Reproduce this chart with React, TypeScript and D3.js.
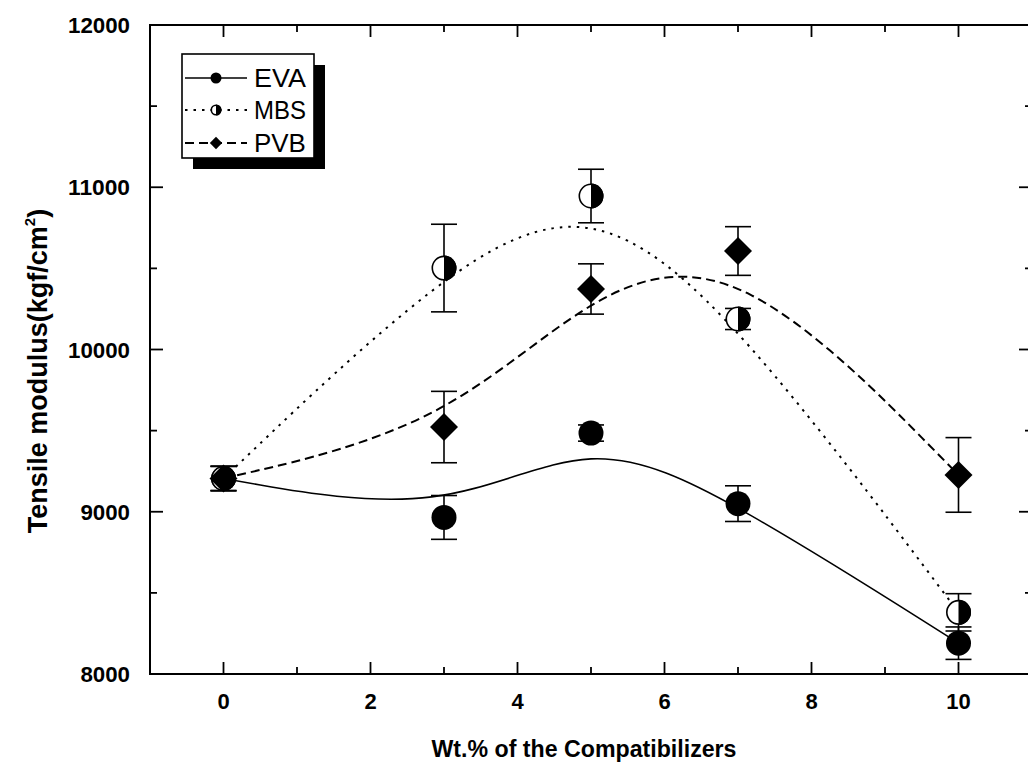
import React from "react";
import * as d3 from "d3";

const xValues = [0, 3, 5, 7, 10];
const evaValues = [9205, 8965, 9485, 9050, 8190];
const evaErrors = [75, 135, 50, 110, 100];
const mbsValues = [9205, 10502, 10946, 10188, 8380];
const mbsErrors = [75, 270, 165, 65, 115];
const pvbValues = [9205, 9522, 10373, 10607, 9227];
const pvbErrors = [75, 220, 155, 150, 230];
const xTickLabels = [0, 2, 4, 6, 8, 10];
const yTickLabels = [8000, 9000, 10000, 11000, 12000];
const seriesNames = ["EVA", "MBS", "PVB"];

const W = 1028;
const H = 766;
const FONT = "'Liberation Sans', Arial, Helvetica, sans-serif";

export default function App() {
  const x = d3.scaleLinear().domain([-1, 11]).range([150, 1032]);
  const y = d3.scaleLinear().domain([8000, 12000]).range([674, 25]);
  const line = d3
    .line<[number, number]>()
    .x((d) => x(d[0]))
    .y((d) => y(d[1]))
    .curve(d3.curveBasis);

  const series = [
    { name: seriesNames[0], values: evaValues, errors: evaErrors, dash: undefined, width: 1.6, marker: "circle" },
    { name: seriesNames[1], values: mbsValues, errors: mbsErrors, dash: "2.5,6", width: 2, marker: "half" },
    { name: seriesNames[2], values: pvbValues, errors: pvbErrors, dash: "9,5", width: 2, marker: "diamond" },
  ];

  const marker = (kind: string, cx: number, cy: number, r: number, key: string) => {
    if (kind === "circle") return <circle key={key} cx={cx} cy={cy} r={r} fill="#000" />;
    if (kind === "diamond") {
      const s = r * 1.12;
      return (
        <path
          key={key}
          d={`M${cx},${cy - s}L${cx + s},${cy}L${cx},${cy + s}L${cx - s},${cy}Z`}
          fill="#000"
        />
      );
    }
    return (
      <g key={key}>
        <circle cx={cx} cy={cy} r={r - 0.8} fill="#fff" stroke="#000" strokeWidth={1.6} />
        <path d={`M${cx},${cy - r}A${r},${r} 0 0 1 ${cx},${cy + r}Z`} fill="#000" />
      </g>
    );
  };

  const xMajor = d3.range(-1, 12, 1);
  const yMinor = d3.range(8000, 12001, 500);
  const [x0, x1] = x.range();
  const [yb, yt] = y.range();

  return (
    <svg
      width={W}
      height={H}
      style={{ position: "absolute", left: 0, top: 0, background: "#fff" }}
      fontFamily={FONT}
    >
      <rect x={0} y={0} width={W} height={H} fill="#fff" />
      {series.map((s) => (
        <path
          key={"l" + s.name}
          d={line(xValues.map((v, i) => [v, s.values[i]] as [number, number])) || ""}
          fill="none"
          stroke="#000"
          strokeWidth={s.width}
          strokeDasharray={s.dash}
        />
      ))}
      {series.map((s) =>
        xValues.map((v, i) => {
          const cx = x(v);
          const top = y(s.values[i] + s.errors[i]);
          const bot = y(s.values[i] - s.errors[i]);
          return (
            <g key={"e" + s.name + i} stroke="#000" strokeWidth={1.6}>
              <line x1={cx} x2={cx} y1={top} y2={bot} />
              <line x1={cx - 13} x2={cx + 13} y1={top} y2={top} />
              <line x1={cx - 13} x2={cx + 13} y1={bot} y2={bot} />
            </g>
          );
        })
      )}
      {series.map((s) => xValues.map((v, i) => marker(s.marker, x(v), y(s.values[i]), 12.5, "m" + s.name + i)))}

      <rect x={x0} y={yt} width={x1 - x0} height={yb - yt} fill="none" stroke="#000" strokeWidth={2} />
      {xMajor.map((v) => {
        const len = v % 2 === 0 ? 12 : 7;
        return (
          <g key={"xt" + v} stroke="#000" strokeWidth={1.8}>
            <line x1={x(v)} x2={x(v)} y1={yb} y2={yb - len} />
            <line x1={x(v)} x2={x(v)} y1={yt} y2={yt + len} />
          </g>
        );
      })}
      {yMinor.map((v) => {
        const len = v % 1000 === 0 ? 13 : 7;
        return (
          <g key={"yt" + v} stroke="#000" strokeWidth={1.8}>
            <line x1={x0} x2={x0 + len} y1={y(v)} y2={y(v)} />
            <line x1={x1} x2={x1 - len} y1={y(v)} y2={y(v)} />
          </g>
        );
      })}
      {xTickLabels.map((v) => (
        <text key={"xl" + v} x={x(v)} y={709} textAnchor="middle" fontSize={22} fontWeight="bold">
          {v}
        </text>
      ))}
      {yTickLabels.map((v) => (
        <text
          key={"yl" + v}
          x={130}
          y={y(v) + 8}
          textAnchor="end"
          fontSize={22}
          fontWeight="bold"
          textLength={String(v).length * 12.4}
          lengthAdjust="spacingAndGlyphs"
        >
          {v}
        </text>
      ))}
      <text
        x={584}
        y={757}
        textAnchor="middle"
        fontSize={23}
        fontWeight="bold"
        textLength={305}
        lengthAdjust="spacingAndGlyphs"
      >
        Wt.% of the Compatibilizers
      </text>
      <text
        transform="translate(47,371) rotate(-90)"
        textAnchor="middle"
        fontSize={27}
        fontWeight="bold"
      >
        Tensile modulus(kgf/cm
        <tspan fontSize={15} dy={-12}>2</tspan>
        <tspan dy={12}>)</tspan>
      </text>

      <rect x={193} y={65} width={132} height={104} fill="#000" />
      <rect x={182} y={54} width={132} height={104} fill="#fff" stroke="#000" strokeWidth={1.6} />
      {series.map((s, i) => {
        const ly = [78, 110, 143][i];
        return (
          <g key={"lg" + s.name}>
            <line
              x1={185}
              x2={247}
              y1={ly}
              y2={ly}
              stroke="#000"
              strokeWidth={s.width}
              strokeDasharray={s.dash}
            />
            {marker(s.marker, 216, ly, 5.5, "lm" + s.name)}
            <text x={254} y={ly + 9} fontSize={25} textLength={s.name.length * 17.3} lengthAdjust="spacingAndGlyphs">
              {s.name}
            </text>
          </g>
        );
      })}
    </svg>
  );
}
